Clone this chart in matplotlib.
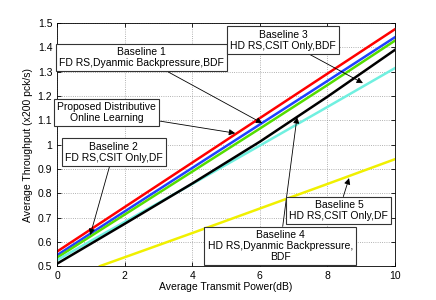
import numpy as np
import matplotlib
matplotlib.use('Agg')
import matplotlib.pyplot as plt

plt.rcParams['font.family'] = ['Liberation Sans', 'DejaVu Sans']

# 数据
x = [0, 2, 4, 6, 8, 10]
red = [0.56, 0.743, 0.926, 1.109, 1.292, 1.475]
blue = [0.545, 0.725, 0.904, 1.083, 1.262, 1.442]
green = [0.535, 0.712, 0.889, 1.066, 1.245, 1.428]
black = [0.51, 0.674, 0.840, 1.012, 1.197, 1.39]
cyan = [0.525, 0.682, 0.838, 0.996, 1.155, 1.315]
x_yellow = [1.27, 4, 6, 8, 10]
yellow = [0.5, 0.636, 0.737, 0.838, 0.94]

fig = plt.figure(figsize=(4.36, 3.0), dpi=100)
ax = fig.add_axes([0.131, 0.113, 0.775, 0.81])

lw = 1.8
ax.plot(x, red, color='#ff0000', lw=lw)
ax.plot(x, blue, color='#2040ff', lw=lw)
ax.plot(x, green, color='#55dd00', lw=lw)
ax.plot(x, cyan, color='#70f0e0', lw=lw)
ax.plot(x, black, color='black', lw=lw)
ax.plot(x_yellow, yellow, color='#f0f000', lw=lw)

ax.set_xlim(0, 10)
ax.set_ylim(0.5, 1.5)
ax.set_xticks([0, 2, 4, 6, 8, 10])
ax.set_yticks(np.arange(0.5, 1.51, 0.1))
ax.set_yticklabels(['0.5', '0.6', '0.7', '0.8', '0.9', '1', '1.1', '1.2', '1.3', '1.4', '1.5'])
ax.tick_params(direction='in', labelsize=7.5, length=3, width=0.6, top=True, right=True)
ax.grid(True, linestyle=':', color='#999999', lw=0.6)
for s in ax.spines.values():
    s.set_linewidth(0.6)
ax.set_xlabel('Average Transmit Power(dB)', fontsize=7.5, labelpad=1)
ax.set_ylabel('Average Throughput (x200 pck/s)', fontsize=7.5, labelpad=3)

# 标注框
box = dict(boxstyle='square,pad=0.3', fc='white', ec='#333333', lw=0.8)
arr = dict(arrowstyle='-|>', color='black', lw=0.6, mutation_scale=9,
           shrinkA=0, shrinkB=0)
notes = [
    ('Baseline 1\nFD RS,Dyanmic Backpressure,BDF', (2.51, 1.358), (6.07, 1.088)),
    ('Proposed Distributive\nOnline Learning', (1.46, 1.132), (5.27, 1.047)),
    ('Baseline 2\nFD RS,CSIT Only,DF', (1.67, 0.969), (0.98, 0.628)),
    ('Baseline 3\nHD RS,CSIT Only,BDF', (6.69, 1.43), (9.05, 1.253)),
    ('Baseline 4\nHD RS,Dyanmic Backpressure,\nBDF', (6.6, 0.582), (7.1, 1.113)),
    ('Baseline 5\nHD RS,CSIT Only,DF', (8.34, 0.728), (8.64, 0.862)),
]
for txt, pos, tip in notes:
    ax.annotate(txt, xy=tip, xytext=pos, ha='center', va='center',
                fontsize=7.5, bbox=box, arrowprops=arr, linespacing=1.15)

fig.savefig('out.png', dpi=100)
